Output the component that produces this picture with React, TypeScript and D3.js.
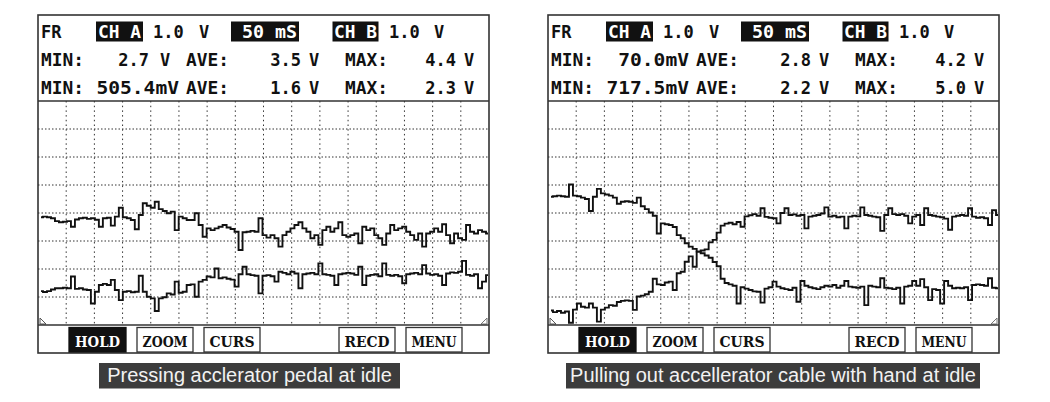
import React from "react";
import * as d3 from "d3";

// ---- data (volts, sampled evenly across 16 time divisions) ----
const leftChA = [
  3.85, 3.87, 3.85, 3.81, 3.71, 3.67, 3.69, 3.71, 3.51, 3.77,
  3.81, 3.83, 3.79, 3.81, 3.76, 3.51, 3.81, 3.83, 3.55, 3.87,
  4.19, 3.85, 3.81, 3.75, 3.42, 3.93, 4.35, 4.26, 4.19, 4.40,
  4.14, 4.07, 3.99, 4.05, 3.39, 3.87, 3.81, 3.75, 3.75, 3.99,
  3.57, 3.15, 3.45, 3.39, 3.45, 3.51, 3.57, 3.48, 3.43, 3.33,
  2.68, 3.31, 3.33, 3.36, 3.33, 3.81, 3.21, 3.12, 3.21, 3.10,
  2.80, 3.21, 3.33, 3.45, 3.57, 3.67, 3.45, 3.33, 3.10, 3.21,
  2.86, 3.39, 3.51, 3.33, 3.45, 3.67, 3.21, 3.15, 3.21, 3.27,
  2.92, 3.51, 3.39, 3.45, 3.21, 3.10, 2.86, 3.27, 3.57, 3.39,
  3.45, 3.51, 3.33, 3.21, 3.04, 3.27, 2.80, 3.27, 3.33, 3.45,
  3.33, 3.60, 3.21, 2.92, 3.27, 3.10, 3.04, 3.57, 3.33, 3.27,
  3.39, 3.33, 3.27,
];
const leftChB = [
  1.21, 1.18, 1.21, 1.27, 1.31, 1.31, 1.33, 1.31, 1.73, 1.29,
  1.31, 1.27, 1.25, 0.77, 1.19, 1.43, 1.47, 1.43, 1.61, 1.25,
  0.89, 1.19, 1.21, 1.17, 1.19, 1.76, 1.19, 1.01, 0.95, 0.50,
  0.95, 0.99, 1.13, 1.09, 1.55, 1.15, 1.19, 1.43, 1.45, 1.01,
  1.55, 1.61, 1.73, 1.70, 2.02, 1.67, 1.70, 1.65, 1.62, 1.37,
  1.81, 2.08, 1.81, 1.78, 1.76, 1.13, 1.76, 1.78, 1.74, 1.55,
  1.90, 1.86, 1.81, 1.90, 1.84, 1.31, 1.81, 1.84, 1.86, 1.81,
  2.20, 1.81, 1.79, 1.76, 1.43, 1.81, 1.84, 1.86, 1.84, 1.79,
  2.08, 1.43, 1.76, 1.79, 1.81, 1.74, 2.20, 1.79, 1.76, 1.79,
  1.74, 1.49, 1.81, 1.84, 1.86, 1.81, 2.14, 1.84, 1.79, 1.81,
  1.76, 1.43, 1.84, 1.88, 1.86, 1.90, 2.29, 1.79, 1.76, 1.81,
  1.31, 1.55, 1.78,
];
const rightChA = [
  0.52, 0.46, 0.50, 0.44, 0.48, 0.08, 0.55, 0.77, 0.65, 0.62,
  0.77, 0.62, 0.12, 0.55, 0.62, 0.71, 0.69, 0.82, 0.86, 0.88,
  0.86, 0.54, 1.02, 1.05, 1.10, 1.19, 1.65, 1.45, 1.43, 1.52,
  1.55, 1.25, 1.85, 1.90, 2.26, 2.45, 2.08, 2.62, 2.66, 2.70,
  2.95, 3.04, 3.30, 3.55, 3.62, 3.65, 3.60, 3.68, 3.51, 3.88,
  3.92, 3.96, 3.90, 4.17, 3.86, 3.83, 3.81, 3.63, 4.00, 4.17,
  3.93, 3.95, 3.90, 3.93, 3.45, 3.87, 3.90, 3.93, 3.98, 4.20,
  3.87, 3.90, 3.85, 3.87, 3.45, 3.87, 3.90, 3.88, 4.20, 3.93,
  3.90, 3.87, 3.85, 3.36, 3.93, 4.17, 3.96, 3.93, 3.96, 3.90,
  3.63, 3.87, 3.93, 3.57, 4.17, 3.93, 3.90, 3.87, 3.85, 3.80,
  3.40, 3.87, 3.90, 3.93, 3.90, 4.17, 3.87, 3.83, 3.85, 3.81,
  3.57, 4.10, 3.93,
];
const rightChB = [
  4.58, 4.60, 4.62, 4.60, 4.58, 5.02, 4.62, 4.60, 4.55, 4.50,
  4.07, 4.58, 4.86, 4.70, 4.66, 4.62, 4.55, 4.33, 4.40, 4.42,
  4.40, 4.36, 4.55, 4.24, 4.14, 4.02, 3.90, 3.27, 3.63, 3.60,
  3.57, 3.50, 3.21, 3.10, 2.92, 2.80, 2.72, 2.62, 2.56, 2.48,
  2.40, 2.25, 2.10, 1.65, 1.50, 1.45, 1.40, 0.77, 1.35, 1.30,
  1.25, 1.20, 1.19, 0.80, 1.30, 1.35, 1.55, 1.37, 1.31, 1.28,
  1.25, 1.33, 0.83, 1.57, 1.40, 1.35, 1.31, 1.28, 1.35, 1.40,
  1.37, 1.43, 1.33, 1.40, 1.57, 1.37, 1.35, 1.33, 1.37, 0.71,
  1.40, 1.37, 1.35, 1.67, 1.33, 1.31, 1.28, 1.33, 0.77, 1.37,
  1.40, 1.57, 1.40, 1.64, 1.35, 0.89, 1.28, 1.25, 0.77, 1.57,
  1.40, 1.31, 1.33, 1.31, 1.35, 0.89, 1.43, 1.45, 1.43, 1.40,
  1.67, 1.33, 1.31,
];

const channelNames = ["CH A", "CH B"];
const voltsPerDiv = "1.0";
const timeBase = "50 mS";
const statLabels = ["MIN:", "AVE:", "MAX:"];
// rows: channel A, channel B ; columns: MIN, AVE, MAX
const leftStats = [
  ["2.7", "3.5", "4.4"],
  ["505.4mV", "1.6", "2.3"],
];
const rightStats = [
  ["70.0mV", "2.8", "4.2"],
  ["717.5mV", "2.2", "5.0"],
];
const buttons = ["HOLD", "ZOOM", "CURS", "RECD", "MENU"];
const leftCaption = "Pressing acclerator pedal at idle";
const rightCaption = "Pulling out accellerator cable with hand at idle";

// ---- layout ----
const W = 1050;
const H = 402;
const PANEL_W = 451;
const TOP = 15;
const SEP = 101;
const PLOT_B = 325;
const BOTTOM = 353;
const MONO = "'DejaVu Sans Mono', 'Liberation Mono', monospace";

const btnPos = [
  [31, 57],
  [99, 56],
  [166, 56],
  [301, 56],
  [368, 56],
];

function Panel({ x0, chA, chB, stats, caption, capX, capW }: any) {
  const x1 = x0 + PANEL_W;
  const ys = d3.scaleLinear().domain([0, 8]).range([PLOT_B, SEP]);
  const xDiv = d3.scaleLinear().domain([0, 16]).range([x0, x1]);
  const xs = d3.scaleLinear().domain([0, chA.length - 1]).range([x0 + 3, x1 - 1]);
  const line = d3
    .line<number>()
    .x((_d, i) => xs(i))
    .y((d) => ys(d))
    .curve(d3.curveStep);
  const vLines = d3.range(1, 16);
  const hLines = d3.range(1, 8);
  const fs = 17;
  const t = (x: number, y: number, s: string, extra: any = {}) => (
    <text
      x={x}
      y={y}
      fontFamily={MONO}
      fontWeight="bold"
      fontSize={fs}
      fill="#111"
      style={{ whiteSpace: "pre" }}
      {...extra}
    >
      {s}
    </text>
  );
  const rowY = [66, 94];
  const valEnds = [110, 262, 417];
  const unitX = [123, 272, 427];
  const labX = [3, 148, 307];
  return (
    <g>
      <rect x={x0} y={TOP} width={PANEL_W} height={BOTTOM - TOP} fill="#fff" stroke="#333" strokeWidth={1.6} />
      {/* header row 1 */}
      {t(x0 + 3, 38, "FR")}
      <rect x={x0 + 58} y={21.5} width={47} height={20} fill="#111" />
      {t(x0 + 60, 38, channelNames[0], { fill: "#fff", textLength: 43, lengthAdjust: "spacingAndGlyphs" })}
      {t(x0 + 115, 38, voltsPerDiv)}
      {t(x0 + 161, 38, "V")}
      <rect x={x0 + 193} y={21.5} width={68} height={20} fill="#111" />
      {t(x0 + 204, 38, timeBase, { fill: "#fff", textLength: 55, lengthAdjust: "spacingAndGlyphs" })}
      <rect x={x0 + 294.5} y={21.5} width={46} height={20} fill="#111" />
      {t(x0 + 296, 38, channelNames[1], { fill: "#fff", textLength: 43, lengthAdjust: "spacingAndGlyphs" })}
      {t(x0 + 351, 38, voltsPerDiv)}
      {t(x0 + 396, 38, "V")}
      {/* stat rows */}
      {stats.map((row: string[], r: number) => (
        <g key={r}>
          {statLabels.map((lab, c) => (
            <g key={c}>
              {t(x0 + labX[c], rowY[r], lab, { textLength: 43, lengthAdjust: "spacingAndGlyphs" })}
              {row[c].endsWith("mV")
                ? t(x0 + 141 - row[c].length * 11.8, rowY[r], row[c], {
                    textLength: row[c].length * 11.8,
                    lengthAdjust: "spacingAndGlyphs",
                  })
                : t(x0 + valEnds[c] + 1, rowY[r], row[c], { textAnchor: "end" })}
              {row[c].endsWith("mV") ? null : t(x0 + unitX[c] - 1, rowY[r], "V")}
            </g>
          ))}
        </g>
      ))}
      <line x1={x0} x2={x1} y1={SEP} y2={SEP} stroke="#333" strokeWidth={1.4} />
      {/* grid */}
      {vLines.map((k) => (
        <line
          key={"v" + k}
          x1={xDiv(k)}
          x2={xDiv(k)}
          y1={SEP}
          y2={PLOT_B}
          stroke="#333"
          strokeWidth={1}
          strokeDasharray="1.5 3.2"
        />
      ))}
      {hLines.map((k) => (
        <line
          key={"h" + k}
          x1={x0}
          x2={x1}
          y1={ys(k)}
          y2={ys(k)}
          stroke="#333"
          strokeWidth={1}
          strokeDasharray="1.5 2"
        />
      ))}
      {/* traces */}
      <path d={line(chA) || ""} fill="none" stroke="#111" strokeWidth={1.9} />
      <path d={line(chB) || ""} fill="none" stroke="#111" strokeWidth={1.9} />
      {/* corner markers */}
      <path
        d={`M${x0 + 2},${PLOT_B - 7} L${x0 + 2},${PLOT_B - 1} L${x0 + 8},${PLOT_B - 1} M${x0 + 2},${PLOT_B - 7} L${x0 + 8},${PLOT_B - 1}`}
        fill="none"
        stroke="#555"
        strokeWidth={1}
      />
      <path
        d={`M${x1 - 2},${PLOT_B - 7} L${x1 - 2},${PLOT_B - 1} L${x1 - 8},${PLOT_B - 1} Z`}
        fill="none"
        stroke="#777"
        strokeWidth={1}
      />
      <line x1={x0} x2={x1} y1={PLOT_B} y2={PLOT_B} stroke="#333" strokeWidth={1.4} />
      {/* buttons */}
      {buttons.map((b, i) => {
        const bx = x0 + btnPos[i][0];
        const bw = btnPos[i][1];
        const active = i === 0;
        return (
          <g key={b}>
            <rect
              x={bx}
              y={327.5}
              width={bw}
              height={24.5}
              fill={active ? "#111" : "#fff"}
              stroke={active ? "#111" : "#333"}
              strokeWidth={1.3}
            />
            <text
              x={bx + bw / 2}
              y={346.5}
              textAnchor="middle"
              fontFamily="'DejaVu Serif', 'Liberation Serif', serif"
              fontWeight="bold"
              fontSize={15.5}
              textLength={45}
              lengthAdjust="spacingAndGlyphs"
              fill={active ? "#fff" : "#111"}
            >
              {b}
            </text>
          </g>
        );
      })}
      {/* caption */}
      <rect x={capX} y={363} width={capW} height={25.5} fill="#3c3c3c" />
      <text
        x={capX + capW / 2}
        y={381.5}
        textAnchor="middle"
        fontFamily="'Liberation Sans', Arial, sans-serif"
        fontSize={20}
        fill="#f2f2f2"
      >
        {caption}
      </text>
    </g>
  );
}

export default function App() {
  return (
    <svg
      width={W}
      height={H}
      viewBox={`0 0 ${W} ${H}`}
      style={{ position: "absolute", left: 0, top: 0, display: "block", background: "#fff" }}
    >
      <rect x={0} y={0} width={W} height={H} fill="#fff" />
      <Panel x0={38} chA={leftChA} chB={leftChB} stats={leftStats} caption={leftCaption} capX={99} capW={301} />
      <Panel x0={548} chA={rightChA} chB={rightChB} stats={rightStats} caption={rightCaption} capX={566} capW={414} />
    </svg>
  );
}
